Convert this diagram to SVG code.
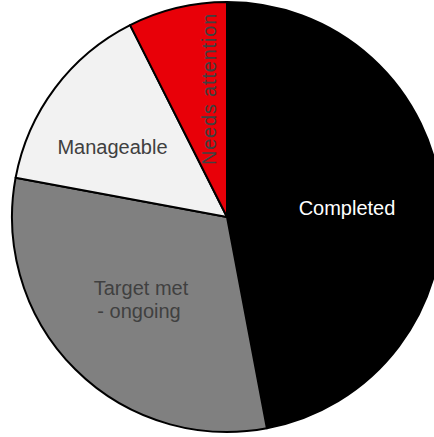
<svg xmlns="http://www.w3.org/2000/svg" width="434" height="437" viewBox="0 0 434 437">
<style>
.sl{stroke:#000;stroke-width:2;stroke-linejoin:round}
.t{font-family:"Liberation Sans",Arial,sans-serif;font-size:20px;text-anchor:middle;fill:#404040}
</style>
<rect width="434" height="437" fill="#fff"/>
<g id="completed">
<path class="sl" fill="#000" d="M227,217 L227,2 A215,215 0 0,1 266.9,428.3 Z"/>
<text class="t" x="347" y="215" style="fill:#fff">Completed</text>
</g>
<g id="target-met">
<path class="sl" fill="#808080" d="M227,217 L266.9,428.3 A215,215 0 0,1 15.6,177.8 Z"/>
<text class="t" x="141" y="295">Target met</text>
<text class="t" x="139" y="318">- ongoing</text>
</g>
<g id="manageable">
<path class="sl" fill="#f2f2f2" d="M227,217 L15.6,177.8 A215,215 0 0,1 130.1,25.1 Z"/>
<text class="t" x="112.5" y="154">Manageable</text>
</g>
<g id="needs-attention">
<path class="sl" fill="#e80008" d="M227,217 L130.1,25.1 A215,215 0 0,1 227,2 Z"/>
<text class="t" transform="translate(216,89) rotate(-90)" x="0" y="0" style="letter-spacing:0.8px">Needs attention</text>
</g>
<g id="connectors"></g>
</svg>
